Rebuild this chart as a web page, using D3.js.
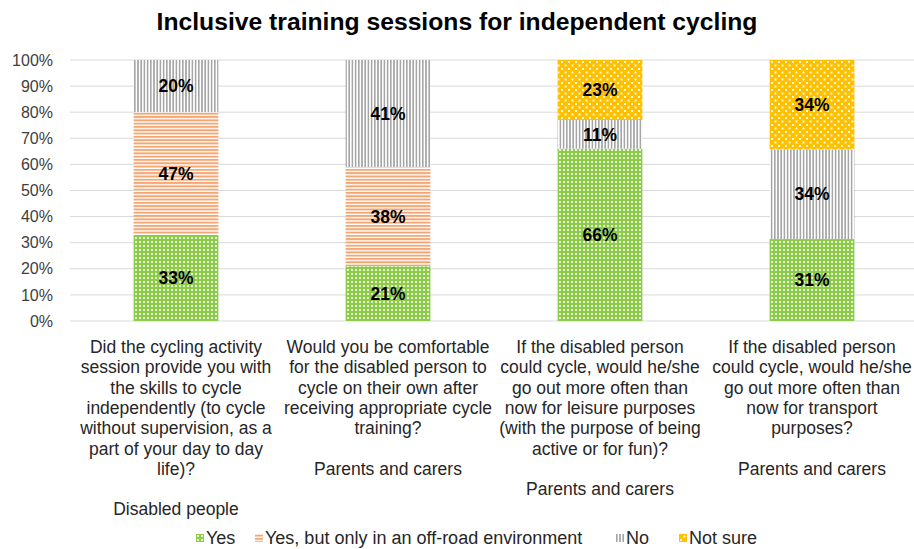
<!DOCTYPE html>
<html>
<head>
<meta charset="utf-8">
<script src="https://cdn.jsdelivr.net/npm/d3@7"></script>
<style>
  body { margin: 0; background: #fff; }
  text { font-family: "Liberation Sans", Arial, sans-serif; }
</style>
</head>
<body>
<div id="chart"></div>
<script>
// data
var categories = ["q1", "q2", "q3", "q4"];
var categoryLabels = [
  ["Did the cycling activity", "session provide you with", "the skills to cycle", "independently (to cycle", "without supervision, as a", "part of your day to day", "life)?", "", "Disabled people"],
  ["Would you be comfortable", "for the disabled person to", "cycle on their own after", "receiving appropriate cycle", "training?", "", "Parents and carers"],
  ["If the disabled person", "could cycle, would he/she", "go out more often than", "now for leisure purposes", "(with the purpose of being", "active or for fun)?", "", "Parents and carers"],
  ["If the disabled person", "could cycle, would he/she", "go out more often than", "now for transport", "purposes?", "", "Parents and carers"]
];
var seriesNames = ["Yes", "Yes, but only in an off-road environment", "No", "Not sure"];
var yesValues     = [0.33, 0.21, 0.66, 0.314];
var offRoadValues = [0.47, 0.38, 0, 0];
var noValues      = [0.20, 0.41, 0.11, 0.343];
var notSureValues = [0, 0, 0.23, 0.343];
var yTicks = [0, 0.1, 0.2, 0.3, 0.4, 0.5, 0.6, 0.7, 0.8, 0.9, 1];

var allSeries = [yesValues, offRoadValues, noValues, notSureValues];
var patternIds = ["pYes", "pOff", "pNo", "pNot"];

var W = 914, H = 549;
var margin = {top: 60, right: -4, bottom: 228, left: 70};
var width = W - margin.left - margin.right,
    height = H - margin.top - margin.bottom;

var svg = d3.select("#chart").append("svg")
  .attr("width", W).attr("height", H);

// patterns
var defs = svg.append("defs");
var p = defs.append("pattern").attr("id", "pYes").attr("patternUnits", "userSpaceOnUse")
  .attr("width", 4).attr("height", 4);
p.append("rect").attr("width", 4).attr("height", 4).attr("fill", "#8ccc48");
p.append("rect").attr("x", 1).attr("y", 1).attr("width", 2).attr("height", 2).attr("fill", "#e8f6da");

p = defs.append("pattern").attr("id", "pOff").attr("patternUnits", "userSpaceOnUse")
  .attr("width", 4).attr("height", 3.3);
p.append("rect").attr("width", 4).attr("height", 3.3).attr("fill", "#fff");
p.append("rect").attr("width", 4).attr("height", 1.9).attr("fill", "#F4A672");

p = defs.append("pattern").attr("id", "pNo").attr("patternUnits", "userSpaceOnUse")
  .attr("width", 3.2).attr("height", 4);
p.append("rect").attr("width", 3.2).attr("height", 4).attr("fill", "#fff");
p.append("rect").attr("width", 1.6).attr("height", 4).attr("fill", "#A5A5A5");

p = defs.append("pattern").attr("id", "pNot").attr("patternUnits", "userSpaceOnUse")
  .attr("width", 7).attr("height", 7);
p.append("rect").attr("width", 7).attr("height", 7).attr("fill", "#FFC000");
p.append("rect").attr("x", 1).attr("y", 1).attr("width", 2).attr("height", 2).attr("fill", "#fff8dc");
p.append("rect").attr("x", 4.5).attr("y", 4.5).attr("width", 2).attr("height", 2).attr("fill", "#fff8dc");

var g = svg.append("g").attr("transform", "translate(" + margin.left + "," + margin.top + ")");

var x = d3.scaleBand().domain(categories).range([0, width]).paddingInner(0.6).paddingOuter(0.3);
var y = d3.scaleLinear().domain([0, 1]).range([height, 0]);

// grid
g.selectAll(".grid").data(yTicks).enter().append("line")
  .attr("x1", 0).attr("x2", width)
  .attr("y1", function(d) { return y(d); }).attr("y2", function(d) { return y(d); })
  .attr("stroke", "#d9d9d9").attr("stroke-width", 1);

// y axis labels
var yAxis = g.append("g").call(d3.axisLeft(y).tickValues(yTicks).tickFormat(d3.format(".0%")).tickSize(0).tickPadding(17));
yAxis.select(".domain").remove();
yAxis.selectAll("text").style("font-size", "16px").attr("fill", "#404040")
  .style("font-family", "'Liberation Sans', Arial, sans-serif");

// stack
var rows = categories.map(function(c, i) {
  var o = {cat: c};
  allSeries.forEach(function(s, k) { o["s" + k] = s[i]; });
  return o;
});
var stack = d3.stack().keys(["s0", "s1", "s2", "s3"])(rows);

stack.forEach(function(layer, k) {
  var lg = g.append("g");
  lg.selectAll("rect").data(layer).enter().append("rect")
    .attr("x", function(d) { return x(d.data.cat); })
    .attr("width", x.bandwidth())
    .attr("y", function(d) { return y(d[1]); })
    .attr("height", function(d) { return y(d[0]) - y(d[1]); })
    .attr("fill", "url(#" + patternIds[k] + ")");
  lg.selectAll("text").data(layer.filter(function(d) { return d[1] - d[0] > 0; })).enter().append("text")
    .attr("x", function(d) { return x(d.data.cat) + x.bandwidth() / 2; })
    .attr("y", function(d) { return y((d[0] + d[1]) / 2); })
    .attr("dy", "0.35em")
    .attr("text-anchor", "middle")
    .style("font-size", "17.5px").style("font-weight", "bold").attr("fill", "#000")
    .text(function(d) { return d3.format(".0%")(d[1] - d[0]); });
});

// x axis labels
categories.forEach(function(c, i) {
  var t = g.append("text")
    .attr("x", x(c) + x.bandwidth() / 2)
    .attr("y", height + 31)
    .attr("text-anchor", "middle")
    .style("font-size", "17.5px").attr("fill", "#262626");
  categoryLabels[i].forEach(function(line, j) {
    t.append("tspan").attr("x", x(c) + x.bandwidth() / 2).attr("y", height + 32 + j * 20.3).text(line);
  });
});

// title
svg.append("text").attr("x", W / 2) .attr("y", 30).attr("text-anchor", "middle")
  .style("font-size", "24.7px").style("font-weight", "bold").attr("fill", "#000")
  .text("Inclusive training sessions for independent cycling");

// legend
var legendX = [196, 255, 616, 679];
var legend = svg.selectAll(".legend").data(seriesNames).enter().append("g")
  .attr("transform", function(d, i) { return "translate(" + legendX[i] + ",538)"; });
legend.append("rect").attr("x", 0).attr("y", -4).attr("width", 8).attr("height", 8)
  .attr("fill", function(d, i) { return "url(#" + patternIds[i] + ")"; });
legend.append("text").attr("x", 10).attr("dy", "0.35em")
  .style("font-size", "18px").attr("fill", "#262626")
  .text(function(d) { return d; });
</script>
</body>
</html>
